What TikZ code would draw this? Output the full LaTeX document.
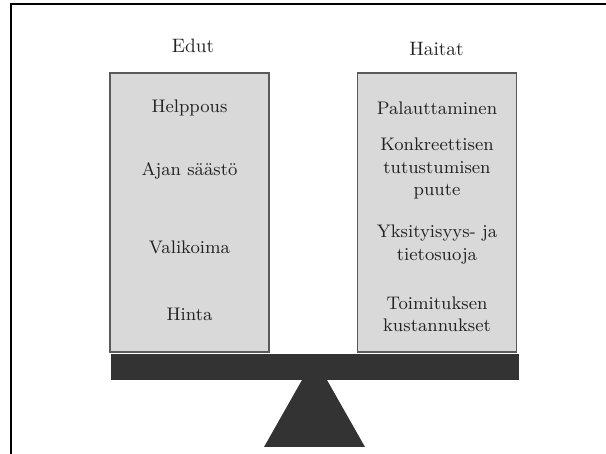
\documentclass[tikz,border=0pt]{standalone}
\usetikzlibrary{positioning}
\definecolor{boxgray}{HTML}{D9D9D9}
\definecolor{beamgray}{HTML}{333333}
\definecolor{edgegray}{HTML}{5A5A5A}
\definecolor{textgray}{HTML}{222222}
\tikzstyle{column} = [rectangle, draw=edgegray, fill=boxgray, line width=0.75pt, minimum width=79.5pt, minimum height=139.5pt, inner sep=0pt]
\tikzstyle{heading} = [text centered, text=textgray, inner sep=0pt, font=\fontsize{9.7}{11.6}\selectfont]
\tikzstyle{item} = [align=center, text=textgray, inner sep=0pt, font=\fontsize{9.1}{11.25}\selectfont]
\tikzstyle{beam} = [rectangle, fill=beamgray, minimum width=204pt, minimum height=13pt, inner sep=0pt]
\tikzstyle{frame} = [line width=0.6pt, black]

\begin{document}
\begin{tikzpicture}[x=0.5pt, y=-0.5pt]

    \useasboundingbox (0,0) rectangle (606,454);

    % Frame (cut off on the right and at the bottom)
    \draw [frame] (11,454) -- (11,4) -- (606,4);

    % Columns
    \node (edut) [column] at (189.5,212.5) {};
    \node (haitat) [column] at (437,212.5) {};

    \node (edut_title) [heading] at (193,46) {Edut};
    \node (haitat_title) [heading] at (436.5,48.5) {Haitat};

    % Advantages
    \node (helppous) [item] at (189.5,108) {Helppous};
    \node (saasto) [item] at (189.5,171) {Ajan säästö};
    \node (valikoima) [item] at (189.5,247) {Valikoima};
    \node (hinta) [item] at (189.5,314) {Hinta};

    % Disadvantages
    \node (palautus) [item] at (437,108) {Palauttaminen};
    \node (puute) [item] at (437,168.5) {Konkreettisen\\tutustumisen\\puute};
    \node (tietosuoja) [item] at (437,244.5) {Yksityisyys- ja\\tietosuoja};
    \node (kustannukset) [item] at (437,314.5) {Toimituksen\\kustannukset};

    % Balance
    \node (lauta) [beam] at (315,367.5) {};
    \fill [beamgray] (302,380) -- (327,380) -- (365,447) -- (264,447) -- cycle;

\end{tikzpicture}
\end{document}
